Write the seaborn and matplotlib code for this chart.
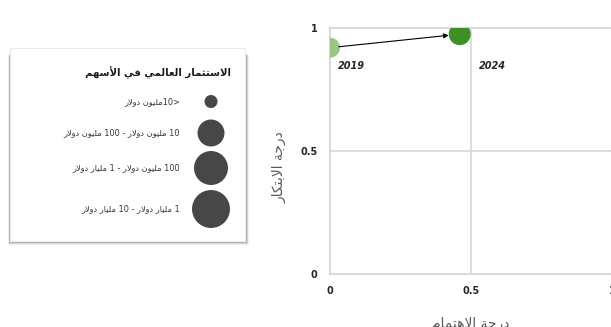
import re
import numpy as np
import pandas as pd
import matplotlib
matplotlib.use("Agg")
import matplotlib.pyplot as plt
from matplotlib.patches import Rectangle
import seaborn as sns

# ---------------- data ----------------
years = ["2019", "2024"]
interest_score = [0.0, 0.46]      # درجة الاهتمام
innovation_score = [0.92, 0.975]  # درجة الابتكار
point_colors = ["#97c883", "#3f8f27"]
point_areas = [207, 251]

legend_title = "الاستثمار العالمي في الأسهم"
legend_labels = [
    "<10مليون دولار",
    "10 مليون دولار - 100 مليون دولار",
    "100 مليون دولار - 1 مليار دولار",
    "1 مليار دولار - 10 مليار دولار",
]
legend_areas = [88, 377, 599, 748]

x_label = "درجة الاهتمام"
y_label = "درجة الابتكار"
tick_values = [0, 0.5, 1]
tick_labels = ["0", "0.5", "1"]

# ---------------- minimal Arabic shaping (presentation forms) ----------------
AR = {
    'ا': (0xFE8D, False), 'أ': (0xFE83, False), 'إ': (0xFE87, False), 'آ': (0xFE81, False),
    'ب': (0xFE8F, True), 'ة': (0xFE93, False), 'ت': (0xFE95, True), 'ث': (0xFE99, True),
    'ج': (0xFE9D, True), 'ح': (0xFEA1, True), 'خ': (0xFEA5, True), 'د': (0xFEA9, False),
    'ذ': (0xFEAB, False), 'ر': (0xFEAD, False), 'ز': (0xFEAF, False), 'س': (0xFEB1, True),
    'ش': (0xFEB5, True), 'ص': (0xFEB9, True), 'ض': (0xFEBD, True), 'ط': (0xFEC1, True),
    'ظ': (0xFEC5, True), 'ع': (0xFEC9, True), 'غ': (0xFECD, True), 'ف': (0xFED1, True),
    'ق': (0xFED5, True), 'ك': (0xFED9, True), 'ل': (0xFEDD, True), 'م': (0xFEE1, True),
    'ن': (0xFEE5, True), 'ه': (0xFEE9, True), 'و': (0xFEED, False), 'ي': (0xFEF1, True),
    'ى': (0xFEEF, False),
}
LAMALEF = {'ا': 0xFEFB, 'أ': 0xFEF7, 'إ': 0xFEF9, 'آ': 0xFEF5}
MIRROR = {'<': '>', '>': '<', '(': ')', ')': '('}


def shape(s):
    out = []
    i, n = 0, len(s)
    while i < n:
        c = s[i]
        if c not in AR:
            out.append(c)
            i += 1
            continue
        prev_joins = i > 0 and s[i - 1] in AR and AR[s[i - 1]][1]
        if c == 'ل' and i + 1 < n and s[i + 1] in LAMALEF:
            out.append(chr(LAMALEF[s[i + 1]] + (1 if prev_joins else 0)))
            i += 2
            continue
        base, dual = AR[c]
        next_joins = dual and i + 1 < n and s[i + 1] in AR
        if prev_joins and next_joins:
            form = 3
        elif prev_joins:
            form = 1
        elif next_joins:
            form = 2
        else:
            form = 0
        out.append(chr(base + form))
        i += 1
    return ''.join(out)


def rtl(s):
    tokens = re.findall(r'[0-9A-Za-z.]+|.', shape(s))
    return ''.join(MIRROR.get(t, t) for t in reversed(tokens))


# ---------------- figure ----------------
sns.set_style("white")
plt.rcParams['font.family'] = ['DejaVu Sans']

W, H = 611, 327
fig = plt.figure(figsize=(W / 100, H / 100), dpi=100)
fig.patch.set_facecolor("white")

# main axes (x = 0 at px 330, x = 1 at px 612; y = 1 at px 28, y = 0 at px 274)
ax = fig.add_axes([330 / W, (H - 274) / H, 282 / W, 246 / H])
df = pd.DataFrame({"interest": interest_score, "innovation": innovation_score, "year": years})
sns.scatterplot(data=df, x="interest", y="innovation", hue="year",
                palette=dict(zip(years, point_colors)),
                size="year", sizes=dict(zip(years, point_areas)),
                linewidth=0, alpha=1, legend=False, ax=ax, zorder=3)

ax.set_xlim(0, 1)
ax.set_ylim(0, 1)
ax.set_xticks(tick_values, tick_labels)
ax.set_yticks(tick_values, tick_labels)
ax.tick_params(length=0, labelsize=7, labelcolor="#262626", pad=9)
for lab in ax.get_xticklabels() + ax.get_yticklabels():
    lab.set_fontweight("bold")

gcol = "#dadada"
ax.axvline(0.5, color=gcol, lw=1.3, zorder=1)
ax.axhline(0.5, color=gcol, lw=1.3, zorder=1)
for side in ["left", "bottom", "top", "right"]:
    ax.spines[side].set_color(gcol)
    ax.spines[side].set_linewidth(1.5)

ax.set_xlabel(rtl(x_label), fontsize=10, color="#595959")
ax.xaxis.set_label_coords(0.5, -(317 - 274) / 246)
ax.set_ylabel(rtl(y_label), fontsize=10, color="#595959")
ax.yaxis.set_label_coords(-(330 - 287) / 282, (274 - 167) / 246)

# arrow from 2019 to 2024
ax.annotate("", xy=(interest_score[1], innovation_score[1]),
            xytext=(interest_score[0], innovation_score[0]),
            arrowprops=dict(arrowstyle="-|>", color="black", lw=0.8,
                            shrinkA=6.5, shrinkB=8, mutation_scale=7),
            zorder=4)

# year labels
year_offsets = [(5.8, -13), (13.5, -23)]
for yr, xv, yv, off in zip(years, interest_score, innovation_score, year_offsets):
    ax.annotate(yr, xy=(xv, yv), xytext=off, textcoords="offset points",
                ha="left", va="center", fontsize=7, fontweight="bold",
                fontstyle="italic", color="#262626")

# ---------------- legend panel ----------------
lx0, ly0, lx1, ly1 = 10, 48, 245, 241
for (dx0, dx1, dy, a) in [(0, 1, 1, 0.45), (-1, 2, 2, 0.35), (-1, 3, 3, 0.22), (-2, 4, 4, 0.10)]:
    fig.add_artist(Rectangle(((lx0 + dx0) / W, (H - ly1 - dy) / H),
                             (lx1 - lx0 + dx1 - dx0) / W, (ly1 - ly0 - 4) / H,
                             transform=fig.transFigure, facecolor="#707070",
                             edgecolor="none", alpha=a, zorder=-1))

lax = fig.add_axes([lx0 / W, (H - ly1) / H, (lx1 - lx0) / W, (ly1 - ly0) / H])
lax.set_facecolor("white")
lax.set_xlim(lx0, lx1)
lax.set_ylim(ly1, ly0)
lax.set_xticks([])
lax.set_yticks([])
for s in lax.spines.values():
    s.set_color("#ececec")
    s.set_linewidth(0.8)

row_y = [101.5, 133, 168, 209]
ldf = pd.DataFrame({"x": [211] * len(legend_labels), "y": row_y, "lab": legend_labels})
sns.scatterplot(data=ldf, x="x", y="y", size="lab",
                sizes=dict(zip(legend_labels, legend_areas)),
                color="#474747", linewidth=0, legend=False, ax=lax)
lax.set_xlabel("")
lax.set_ylabel("")

lax.text(231, 73, rtl(legend_title), ha="right", va="center", fontsize=7.3,
         fontweight="bold", color="#1a1a1a")
for lab, yv in zip(legend_labels, row_y):
    lax.text(180, yv, rtl(lab), ha="right", va="center", fontsize=5.9, color="#333333")

fig.savefig("out.png", dpi=100)
